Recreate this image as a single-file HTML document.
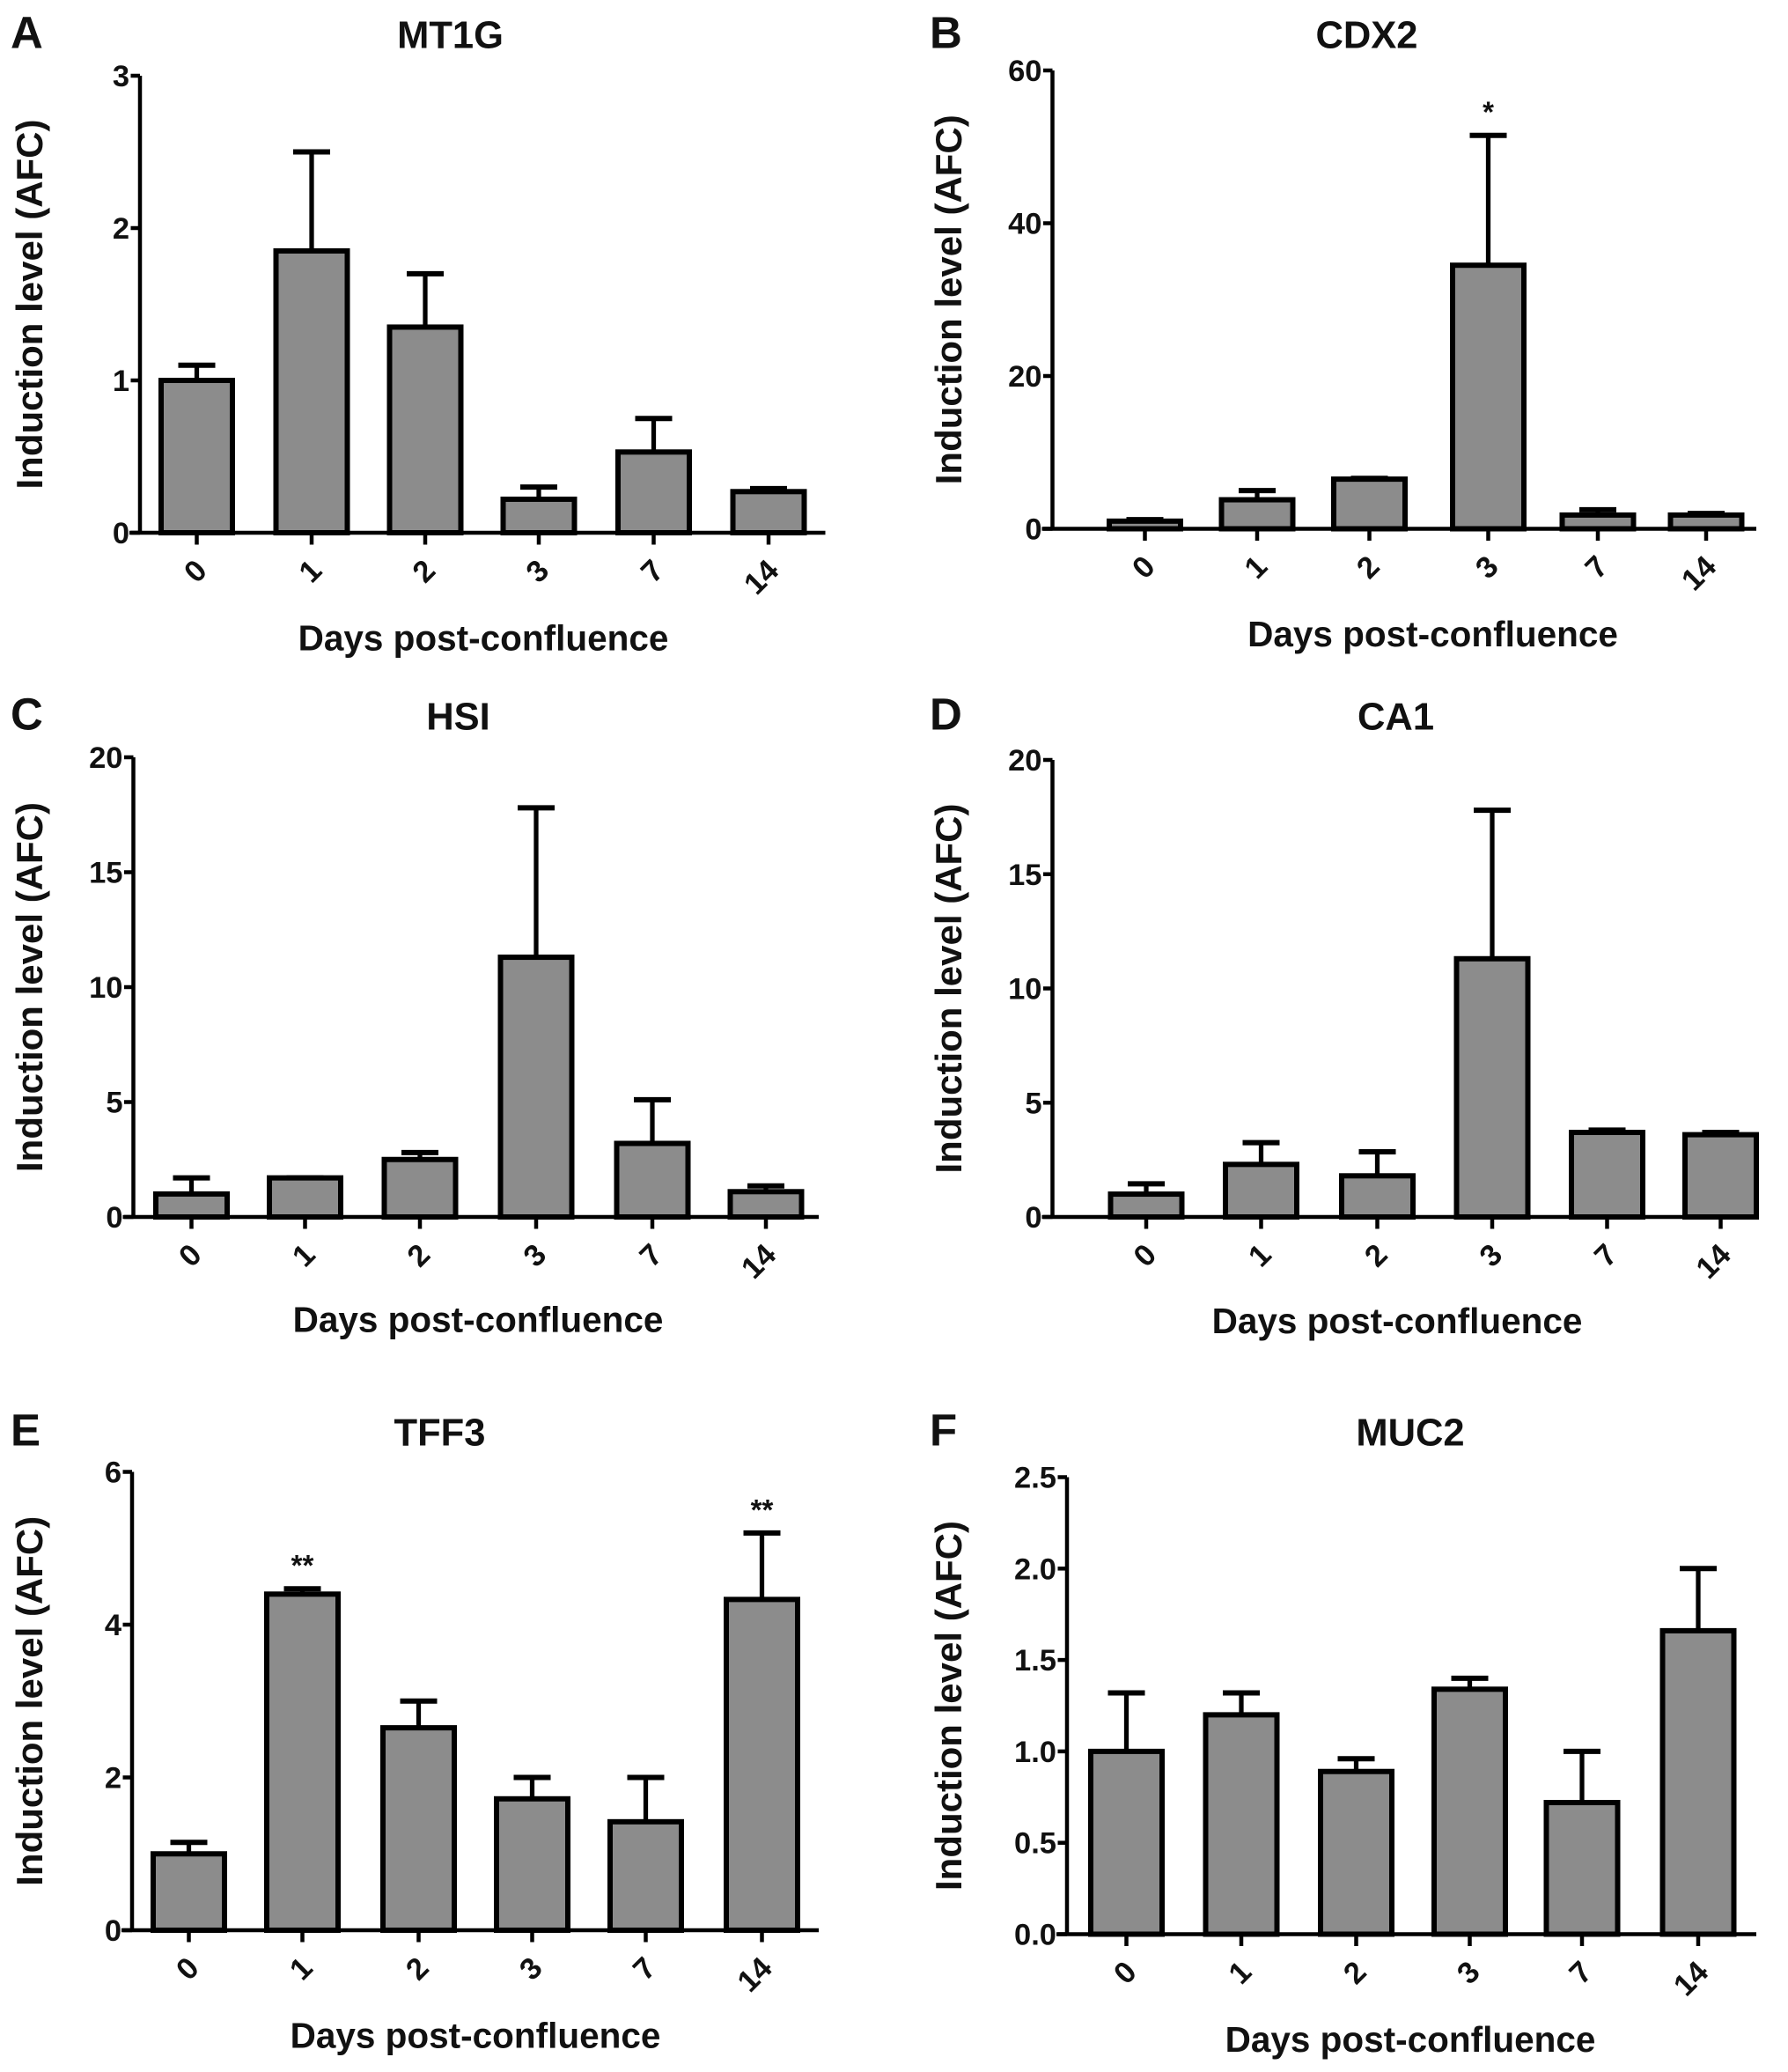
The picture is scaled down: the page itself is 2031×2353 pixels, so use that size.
<!DOCTYPE html>
<html><head><meta charset="utf-8"><style>
html,body{margin:0;padding:0;background:#fff;}
svg{display:block;}
text{font-family:"Liberation Sans",Arial,sans-serif;font-weight:bold;fill:#111;}
</style></head><body>
<svg id="fig" width="2031" height="2353" viewBox="0 0 1354 1568" xmlns="http://www.w3.org/2000/svg"></svg>
<script>
const categories = ["0","1","2","3","7","14"];
const mt1gMeans = [1.0,1.85,1.35,0.22,0.53,0.27];
const mt1gErr = [1.1,2.5,1.7,0.3,0.75,0.29];
const cdx2Means = [1,3.8,6.5,34.5,1.8,1.8];
const cdx2Err = [1.2,5,6.6,51.5,2.5,2];
const hsiMeans = [1,1.7,2.5,11.3,3.2,1.1];
const hsiErr = [1.7,1.7,2.8,17.8,5.1,1.35];
const ca1Means = [1,2.3,1.8,11.3,3.7,3.6];
const ca1Err = [1.45,3.25,2.85,17.8,3.8,3.7];
const tff3Means = [1,4.4,2.65,1.72,1.42,4.33];
const tff3Err = [1.15,4.47,3,2,2,5.2];
const muc2Means = [1,1.2,0.89,1.34,0.72,1.66];
const muc2Err = [1.32,1.32,0.96,1.4,1.0,2.0];
const mt1gTicks = ["0","1","2","3"];
const cdx2Ticks = ["0","20","40","60"];
const hsiTicks = ["0","5","10","15","20"];
const ca1Ticks = ["0","5","10","15","20"];
const tff3Ticks = ["0","2","4","6"];
const muc2Ticks = ["0.0","0.5","1.0","1.5","2.0","2.5"];
const cdx2Stars = ["","","","*","",""];
const tff3Stars = ["","**","","","","**"];

const NS="http://www.w3.org/2000/svg";
const svg=document.getElementById('fig');
function mk(tag,attrs,parent){const e=document.createElementNS(NS,tag);for(const k in attrs)e.setAttribute(k,attrs[k]);(parent||svg).appendChild(e);return e;}

const panels=[
 {id:"a",letter:"A",lx:8,ly:36,title:"MT1G",tx:341,ty:36,ax:106,top:57,zero:403,end:625,xs:[149,236,322,408,495,582],m:mt1gMeans,e:mt1gErr,ticks:mt1gTicks,stars:null,xt:366,xty:492,yt:22},
 {id:"b",letter:"B",lx:704,ly:36,title:"CDX2",tx:1035,ty:36,ax:797,top:53,zero:400,end:1330,xs:[867,952,1037,1127,1210,1292],m:cdx2Means,e:cdx2Err,ticks:cdx2Ticks,stars:cdx2Stars,xt:1085,xty:489,yt:718},
 {id:"c",letter:"C",lx:8,ly:552,title:"HSI",tx:347,ty:552,ax:101,top:573,zero:921,end:620,xs:[145,231,318,406,494,580],m:hsiMeans,e:hsiErr,ticks:hsiTicks,stars:null,xt:362,xty:1008,yt:22},
 {id:"d",letter:"D",lx:704,ly:552,title:"CA1",tx:1057,ty:552,ax:797,top:575,zero:921,end:1320,xs:[868,955,1043,1130,1217,1303],m:ca1Means,e:ca1Err,ticks:ca1Ticks,stars:null,xt:1058,xty:1009,yt:718},
 {id:"e",letter:"E",lx:8,ly:1094,title:"TFF3",tx:333,ty:1094,ax:100,top:1114,zero:1461,end:620,xs:[143,229,317,403,489,577],m:tff3Means,e:tff3Err,ticks:tff3Ticks,stars:tff3Stars,xt:360,xty:1550,yt:22},
 {id:"f",letter:"F",lx:704,ly:1094,title:"MUC2",tx:1068,ty:1094,ax:808,top:1118,zero:1464,end:1330,xs:[853,940,1027,1113,1198,1286],m:muc2Means,e:muc2Err,ticks:muc2Ticks,stars:null,xt:1068,xty:1553,yt:718}
];

panels.forEach(p=>{
 const g=mk('g',{});
 
 
 const maxV=parseFloat(p.ticks[p.ticks.length-1]);
 const y=v=>p.zero-(v/maxV)*(p.zero-p.top);
 let t=mk('text',{x:p.lx,y:p.ly,'font-size':34},g);t.textContent=p.letter;
 
 t=mk('text',{x:p.tx,y:p.ty,'font-size':29,'text-anchor':'middle'},g);t.textContent=p.title;
 
 p.m.forEach((v,i)=>{
  const cx=p.xs[i],w=58;
  const ey=y(p.e[i]);
  const l=mk('line',{x1:cx,x2:cx,y1:y(v),y2:ey,stroke:'#000','stroke-width':3.5},g);
  
  const c=mk('line',{x1:cx-14,x2:cx+14,y1:ey,y2:ey,stroke:'#000','stroke-width':4},g);
  
  const r=mk('rect',{x:cx-w/2+2,y:y(v),width:w-4,height:p.zero-y(v),fill:'#8c8c8c',stroke:'#000','stroke-width':4},g);
  
  if(p.stars&&p.stars[i]){const s=mk('text',{x:cx,y:ey-10,'font-size':22,'font-weight':'normal','text-anchor':'middle'},g);s.textContent=p.stars[i];
   }
  const tk=mk('line',{x1:cx,x2:cx,y1:p.zero,y2:p.zero+9,stroke:'#000','stroke-width':3},g);
  
  const lx=cx+9,ly=p.zero+30;
  const lb=mk('text',{x:lx,y:ly,'font-size':23,'text-anchor':'end',transform:`rotate(-45 ${lx} ${ly})`},g);
  lb.textContent=categories[i];
  
 });
 let a=mk('line',{x1:p.ax,x2:p.ax,y1:p.top,y2:p.zero,stroke:'#000','stroke-width':3},g);
 
 a=mk('line',{x1:p.ax-8,x2:p.end,y1:p.zero,y2:p.zero,stroke:'#000','stroke-width':3},g);
 
 p.ticks.forEach(tl=>{
  const yy=y(parseFloat(tl));
  const tk=mk('line',{x1:p.ax-7,x2:p.ax,y1:yy,y2:yy,stroke:'#000','stroke-width':3},g);
  
  const lb=mk('text',{x:p.ax-8,y:yy+8,'font-size':23,'text-anchor':'end'},g);lb.textContent=tl;
  
 });
 t=mk('text',{x:p.xt,y:p.xty,'font-size':27,'text-anchor':'middle'},g);t.textContent='Days post-confluence';
 
 const ym=(p.top+p.zero)/2;
 const xx=p.yt;
 t=mk('text',{x:xx,y:ym+10,'font-size':28,'text-anchor':'middle',transform:`rotate(-90 ${xx} ${ym})`},g);
 t.textContent='Induction level (AFC)';
 
});
</script>
</body></html>
